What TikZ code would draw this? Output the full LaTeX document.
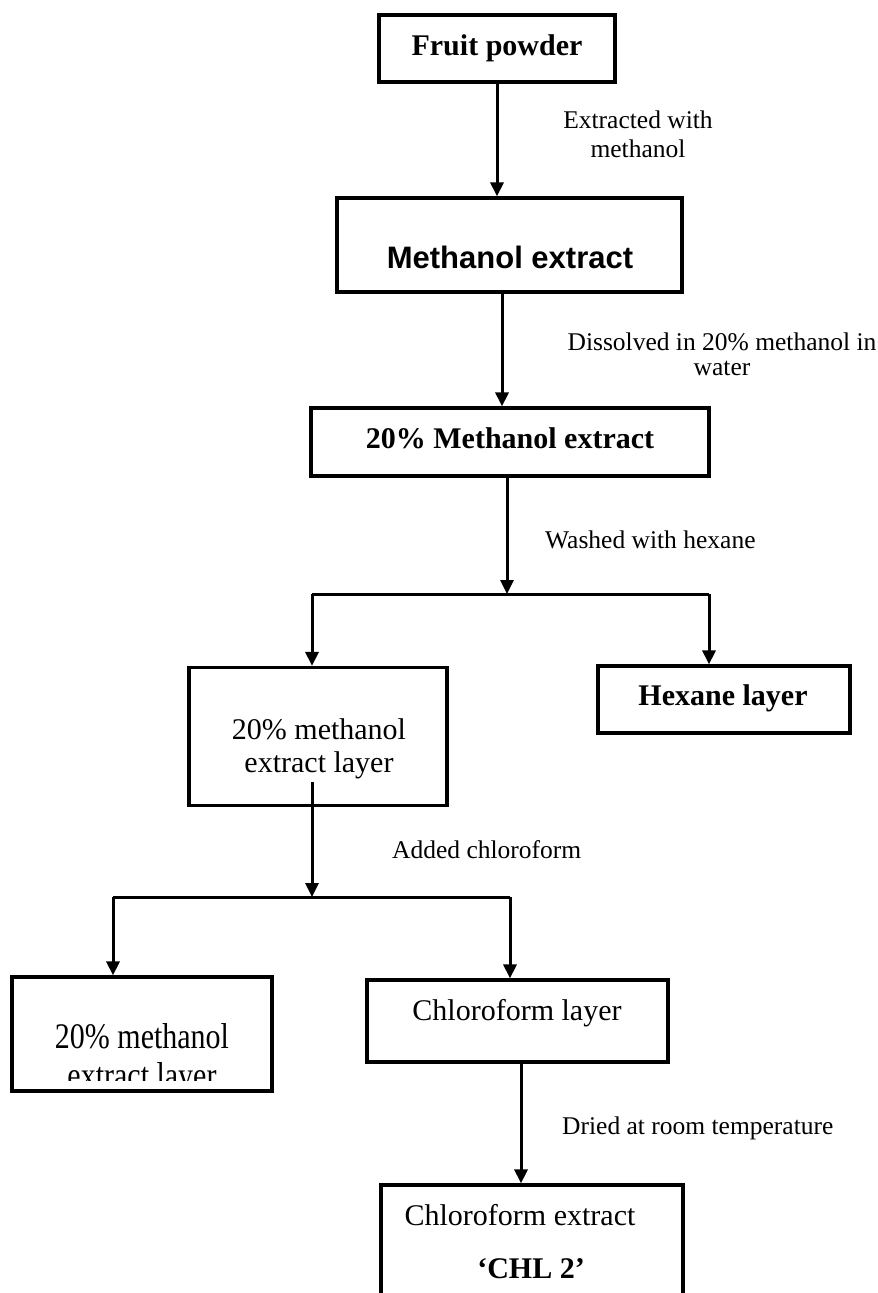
\documentclass[tikz,border=0pt]{standalone}
\usepackage{fontspec}
\usepackage{graphicx}
\setmainfont{Liberation Serif}
\newfontfamily\arialfont{Liberation Sans}
\usetikzlibrary{arrows.meta}
\begin{document}
\begin{tikzpicture}[x=1pt,y=-1pt,
  box/.style={draw, line width=3.2pt, inner sep=0pt},
  conn/.style={line width=3pt},
  arr/.style={conn, -{Triangle[length=14pt,width=13pt]}},
  lbl/.style={font=\fontsize{25.5}{29}\selectfont, inner sep=0pt, anchor=base west},
  bt/.style={font=\fontsize{30}{34}\selectfont\bfseries, inner sep=0pt, anchor=base},
  rt/.style={font=\fontsize{30}{34}\selectfont, inner sep=0pt, anchor=base},
]
\useasboundingbox (0,0) rectangle (878,1293);
\clip (0,0) rectangle (878,1293);
\fill[white] (0,0) rectangle (878,1293);

% boxes
\node[box, minimum width=236pt, minimum height=67pt]  (fp)  at (497,48.5) {};
\node[box, minimum width=345pt, minimum height=94pt]  (me)  at (509.5,245) {};
\node[box, minimum width=398pt, minimum height=68pt]  (m20) at (510,442) {};
\node[box, minimum width=258pt, minimum height=138pt] (ml)  at (318,736.5) {};
\node[box, minimum width=252pt, minimum height=67pt]  (hx)  at (724,699.5) {};
\node[box, minimum width=260pt, minimum height=114pt] (ml2) at (142,1034) {};
\node[box, minimum width=301pt, minimum height=82pt]  (cl)  at (517.5,1021) {};
\node[box, minimum width=302pt, minimum height=120pt] (ce)  at (532,1245) {};

% box texts
\node[bt] (tfp) at (497,55) {Fruit powder};
\node[font=\fontsize{31}{34}\selectfont\arialfont\bfseries, inner sep=0pt, anchor=base] (tme) at (510,268) {Methanol extract};
\node[bt] (tm20) at (510,448) {20\% Methanol extract};
\node[bt] (thx) at (723,705) {Hexane layer};
\node[rt, align=center, font=\fontsize{30}{33}\selectfont] (tml) at (319,772) {20\% methanol\\extract layer};
\begin{scope}
\clip (12,977) rectangle (272,1080);
\node[rt] (tml2) at (142,1048) {\scalebox{1}[1.2]{\begin{tabular}[t]{@{}c@{}}20\% methanol\\[-1.5pt]extract layer\end{tabular}}};
\end{scope}
\node[rt] (tcl) at (517,1020) {Chloroform layer};
\node[rt] (tce) at (520,1225) {Chloroform extract};
\node[bt] (tchl) at (531,1278) {‘CHL 2’};

% labels
\node[lbl, align=center, anchor=base] (l1) at (638,157) {Extracted with\\methanol};
\begin{scope}
\clip (500,300) rectangle (878,376);
\node[lbl, align=center, anchor=base, font=\fontsize{25.5}{25}\selectfont] (l2) at (722,375) {Dissolved in 20\% methanol in\\water};
\end{scope}
\node[lbl] (l3) at (545,548) {Washed with hexane};
\node[lbl] (l4) at (392,858) {Added chloroform};
\node[lbl] (l5) at (562,1134) {Dried at room temperature};

% connectors
\draw[arr] (fp.south) -- (fp.south |- me.north);
\draw[arr] ([xshift=-7.5pt]me.south) -- ([xshift=-7.5pt]me.south |- m20.north);
\coordinate (s1) at (507,594);
\draw[arr] ([xshift=-3pt]m20.south) -- (s1);
\coordinate (b1l) at (312,594);
\coordinate (b1r) at (709,594);
\draw[conn] (b1l) -- (b1r);
\draw[arr] (b1l) -- (b1l |- ml.north);
\draw[arr] (b1r) -- (b1r |- hx.north);
\coordinate (s2o) at (312,782);
\coordinate (s2) at (312,897);
\draw[arr] (s2o) -- (s2);
\coordinate (b2l) at (113,897);
\coordinate (b2r) at (510,897);
\draw[conn] (b2l) -- (b2r);
\draw[arr] (b2l) -- (b2l |- ml2.north);
\draw[arr] (b2r) -- (b2r |- cl.north);
\draw[arr] ([xshift=3.5pt]cl.south) -- ([xshift=3.5pt]cl.south |- ce.north);
\end{tikzpicture}
\end{document}
